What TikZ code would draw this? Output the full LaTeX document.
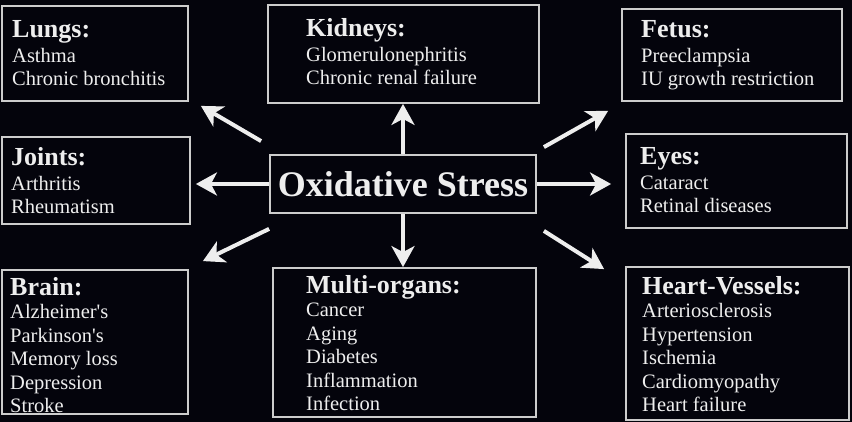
\documentclass[tikz,border=0pt]{standalone}
\usepackage{fontspec}
\setmainfont{Liberation Serif}
\usetikzlibrary{arrows.meta}
\definecolor{bgdark}{RGB}{4,4,12}
\definecolor{edgegrey}{RGB}{205,205,205}
\definecolor{inkwhite}{RGB}{238,238,238}
\newcommand{\HDG}[1]{{\fontsize{26}{23.5}\selectfont\bfseries #1}}
\tikzset{
    BX/.style ={rectangle, draw=edgegrey, line width=1.8pt, inner sep=0pt},
    TX/.style ={anchor=north west, inner sep=0pt, align=left, text=inkwhite,
        font=\fontsize{20.5}{23.5}\selectfont},
    OS/.style ={BX, text=inkwhite, font=\fontsize{36}{40}\selectfont\bfseries},
    AR/.style ={draw=inkwhite, line width=4pt, -{Stealth[length=21pt,width=23pt,inset=6pt]}}}

\begin{document}
\begin{tikzpicture}[x=1pt,y=-1pt]
    \fill[bgdark] (0,0) rectangle (852,422);
    \useasboundingbox (0,0) rectangle (852,422);
    % boxes
    \node[BX, minimum width=186pt, minimum height=95pt] (lungs) at (95,53.5){};
    \node[BX, minimum width=188pt, minimum height=87pt] (joints) at (96,180.5){};
    \node[BX, minimum width=186pt, minimum height=144pt] (brain) at (95,342){};
    \node[BX, minimum width=271pt, minimum height=98pt] (kidneys) at (403.5,54){};
    \node[OS, minimum width=266pt, minimum height=58pt] (os) at (403,184){Oxidative Stress};
    \node[BX, minimum width=263pt, minimum height=149pt] (multi) at (404.5,342.5){};
    \node[BX, minimum width=220pt, minimum height=92pt] (fetus) at (732,55){};
    \node[BX, minimum width=221pt, minimum height=94pt] (eyes) at (736.5,181){};
    \node[BX, minimum width=223pt, minimum height=153pt] (heart) at (737.5,343.5){};
    % texts
    \node[TX] (lungs txt) at (12,20){\HDG{Lungs:}\\[1.5pt] Asthma\\ Chronic bronchitis};
    \node[TX] (kidneys txt) at (306,18){\HDG{Kidneys:}\\[1.5pt] Glomerulonephritis\\ Chronic renal failure};
    \node[TX] (fetus txt) at (641,20){\HDG{Fetus:}\\[1.5pt] Preeclampsia\\ IU growth restriction};
    \node[TX] (joints txt) at (11,147){\HDG{Joints:}\\[1.5pt] Arthritis\\ Rheumatism};
    \node[TX] (eyes txt) at (640,147){\HDG{Eyes:}\\[1.5pt] Cataract\\ Retinal diseases};
    \node[TX] (brain txt) at (10,277){\HDG{Brain:}\\ Alzheimer\textquotesingle s\\ Parkinson\textquotesingle s\\ Memory loss\\ Depression\\ Stroke};
    \node[TX] (multi txt) at (306,275){\HDG{Multi-organs:}\\ Cancer\\ Aging\\ Diabetes\\ Inflammation\\ Infection};
    \node[TX] (heart txt) at (642,276){\HDG{Heart-Vessels:}\\ Arteriosclerosis\\ Hypertension\\ Ischemia\\ Cardiomyopathy\\ Heart failure};
    % arrows
    \draw[AR] ([shift={(-8,-13)}]os.north west) -- ([shift={(12,4)}]lungs.south east);
    \draw[AR, shorten >=5pt] (os.west) -- (os.west -| joints.east);
    \draw[AR] ([shift={(0,15)}]os.south west) -- ([shift={(14,-8)}]brain.north east);
    \draw[AR] (os.north) -- (os.north |- kidneys.south);
    \draw[AR] (os.south) -- (os.south |- multi.north);
    \draw[AR] ([shift={(7,-7)}]os.north east) -- ([shift={(-13,9)}]fetus.south west);
    \draw[AR, shorten >=14pt] (os.east) -- (os.east -| eyes.west);
    \draw[AR] ([shift={(7,17)}]os.south east) -- ([shift={(-21,3)}]heart.north west);
\end{tikzpicture}
\end{document}
